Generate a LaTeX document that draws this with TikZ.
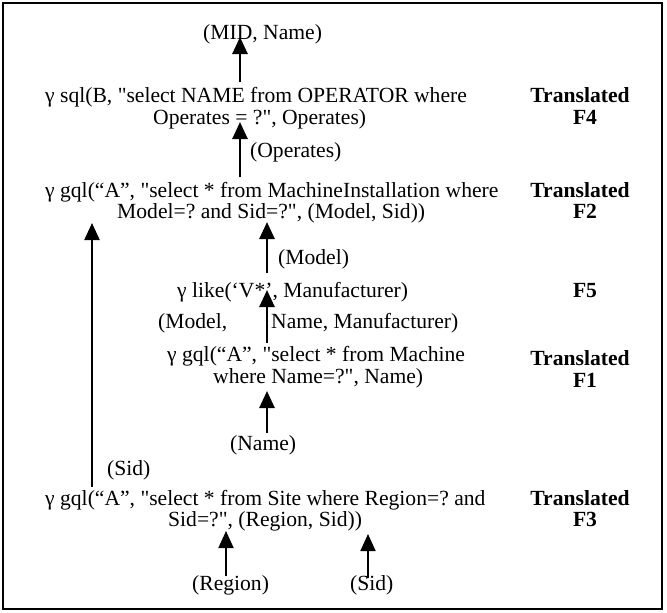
\documentclass[tikz,border=0pt]{standalone}
\usepackage{fontspec}
\setmainfont{Liberation Serif}
\newfontfamily\rawfont{Liberation Serif}
\usetikzlibrary{arrows.meta}
\newcommand{\dq}{{\rawfont\char34}}
\begin{document}
\frenchspacing
\begin{tikzpicture}[x=1pt,y=-1pt,
  txt/.style={inner sep=0pt, anchor=mid west, font=\fontsize{21.6}{25}\selectfont},
  lbl/.style={inner sep=0pt, anchor=mid, font=\fontsize{21.6}{25}\selectfont\bfseries},
  uparrow/.style={line width=2.6pt, -{Triangle[length=17pt,width=15pt]}},
  thinarrow/.style={line width=1.8pt, -{Triangle[length=17pt,width=15pt]}}]
\useasboundingbox (0,0) rectangle (667,613);
\draw[line width=1.8pt] (3,3) rectangle (662,609);

% texts
\node[txt] (mid) at (203,37) {(MID, Name)};
\node[txt] (f4a) at (45,100) {γ sql(B, \dq select NAME from OPERATOR where};
\node[txt] (f4b) at (153,122) {Operates = ?\dq, Operates)};
\node[txt] (ops) at (250,155) {(Operates)};
\node[txt] (f2a) at (45,195) {γ gql(“A”, \dq select * from MachineInstallation where};
\node[txt] (f2b) at (117,216) {Model=? and Sid=?\dq, (Model, Sid))};
\node[txt] (mdl) at (278,262) {(Model)};
\node[txt] (f5) at (177,295) {γ like(‘V*’, Manufacturer)};
\node[txt] (mnm) at (158,326) {(Model,\hspace{44pt}Name, Manufacturer)};
\node[txt] (f1a) at (167,359) {γ gql(“A”, \dq select * from Machine};
\node[txt] (f1b) at (213,381) {where Name=?\dq, Name)};
\node[txt] (nm) at (230,448) {(Name)};
\node[txt] (sid1) at (107,473) {(Sid)};
\node[txt] (f3a) at (45,503) {γ gql(“A”, \dq select * from Site where Region=? and};
\node[txt] (f3b) at (168,524) {Sid=?\dq, (Region, Sid))};
\node[txt] (reg) at (192,588) {(Region)};
\node[txt] (sid2) at (350,588) {(Sid)};

% labels
\node[lbl] (t4) at (580,100) {Translated};
\node[lbl] (l4) at (585,122) {F4};
\node[lbl] (t2) at (580,195) {Translated};
\node[lbl] (l2) at (585,216) {F2};
\node[lbl] (l5) at (585,295) {F5};
\node[lbl] (t1) at (580,363) {Translated};
\node[lbl] (l1) at (585,385) {F1};
\node[lbl] (t3) at (580,503) {Translated};
\node[lbl] (l3) at (585,524) {F3};

% arrow endpoints
\coordinate (a1s) at (240,82);  \coordinate (a1e) at (240,37);
\coordinate (a2s) at (240,177); \coordinate (a2e) at (240,122);
\coordinate (a3s) at (267,273); \coordinate (a3e) at (267,222);
\coordinate (a4s) at (267,343); \coordinate (a4e) at (267,290);
\coordinate (a5s) at (267,433); \coordinate (a5e) at (267,391);
\coordinate (lgs) at (92,487);  \coordinate (lge) at (92,223);
\coordinate (a6s) at (226,576); \coordinate (a6e) at (226,531);
\coordinate (a7s) at (368,578); \coordinate (a7e) at (368,534);

\draw[uparrow] (a1s) -- (a1e);
\draw[uparrow] (a2s) -- (a2e);
\draw[uparrow] (a3s) -- (a3e);
\draw[uparrow] (a4s) -- (a4e);
\draw[uparrow] (a5s) -- (a5e);
\draw[uparrow, line width=2.2pt] (lgs) -- (lge);
\draw[thinarrow] (a6s) -- (a6e);
\draw[thinarrow] (a7s) -- (a7e);
\end{tikzpicture}
\end{document}
